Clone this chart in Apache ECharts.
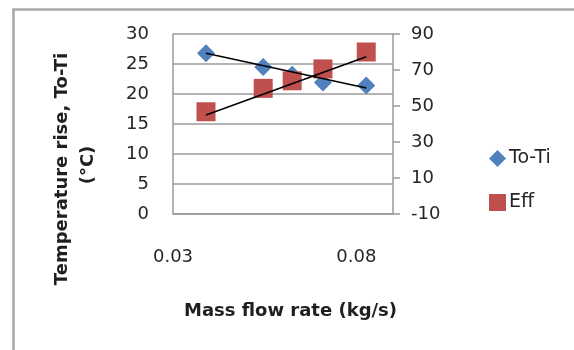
<!DOCTYPE html>
<html>
<head>
<meta charset="utf-8">
<script src="https://cdn.jsdelivr.net/npm/echarts@6/dist/echarts.min.js"></script>
<style>html,body{margin:0;padding:0;background:#fff}#c{width:574px;height:350px}</style>
</head>
<body>
<div id="c"></div>
<script>
// ---- data ----
var massFlow = [0.039, 0.0546, 0.0625, 0.0709, 0.0827];
var tempRise = [26.8, 24.5, 23.2, 21.9, 21.4];
var eff = [46.8, 59.8, 64.0, 70.6, 80.0];
// linear trendlines (end points)
var trendX = [0.039, 0.0827];
var tempTrend = [26.8, 21.0];
var effTrend = [45.0, 77.4];
var xTickLabels = ['0.03', '0.08'];
var seriesNames = ['To-Ti', 'Eff'];

function pairs(xs, ys) { return xs.map(function (x, i) { return [x, ys[i]]; }); }

var FONT = 'DejaVu Sans';
var GRID = '#9a9a9a';
var chart = echarts.init(document.getElementById('c'));
chart.setOption({
  animation: false,
  backgroundColor: '#fff',
  textStyle: { fontFamily: FONT },
  grid: { left: 173, top: 34, width: 220, height: 180, containLabel: false },
  xAxis: {
    type: 'value', min: 0.03, max: 0.09, interval: 0.01,
    axisLine: { show: true, lineStyle: { color: GRID, width: 1.5 } },
    axisTick: { show: false },
    splitLine: { show: false },
    axisLabel: {
      margin: 34, fontSize: 18, color: '#262626', fontFamily: FONT,
      formatter: function (v) { var s = v.toFixed(2); return xTickLabels.indexOf(s) >= 0 ? s : ''; }
    }
  },
  yAxis: [{
    type: 'value', min: 0, max: 30, interval: 5,
    axisLine: { show: true, lineStyle: { color: GRID, width: 1.5 } },
    axisTick: { show: false },
    splitLine: { show: true, lineStyle: { color: GRID, width: 1.5 } },
    axisLabel: { margin: 24, fontSize: 18, color: '#262626', fontFamily: FONT }
  }, {
    type: 'value', min: -10, max: 90, interval: 20, position: 'right',
    axisLine: { show: true, lineStyle: { color: GRID, width: 1.5 } },
    axisTick: { show: true, inside: false, length: 7, lineStyle: { color: GRID, width: 1.5 } },
    splitLine: { show: false },
    axisLabel: { margin: 18, fontSize: 18, color: '#262626', fontFamily: FONT }
  }],
  legend: {
    data: [{ name: seriesNames[0], icon: 'diamond' }, { name: seriesNames[1], icon: 'rect' }],
    orient: 'vertical', left: 489, top: 149, padding: 0, itemGap: 25,
    itemWidth: 17, itemHeight: 17,
    itemStyle: { opacity: 1 },
    textStyle: { fontSize: 19, color: '#262626', fontFamily: FONT, padding: [0, 0, 0, -2] }
  },
  series: [{
    name: seriesNames[0], type: 'scatter', yAxisIndex: 0, symbol: 'diamond', symbolSize: 18,
    itemStyle: { color: '#4f81bd', opacity: 1 }, data: pairs(massFlow, tempRise), z: 2
  }, {
    name: seriesNames[1], type: 'scatter', yAxisIndex: 1, symbol: 'rect', symbolSize: 19,
    itemStyle: { color: '#c0504d', opacity: 1 }, data: pairs(massFlow, eff), z: 2
  }, {
    name: 'trend1', type: 'line', yAxisIndex: 0, symbol: 'none', z: 5,
    lineStyle: { color: '#000', width: 1.6 }, data: pairs(trendX, tempTrend)
  }, {
    name: 'trend2', type: 'line', yAxisIndex: 1, symbol: 'none', z: 5,
    lineStyle: { color: '#000', width: 1.6 }, data: pairs(trendX, effTrend)
  }],
  graphic: [{
    type: 'rect', shape: { x: 13.5, y: 9.5, width: 700, height: 500 },
    style: { fill: 'none', stroke: '#a8a8a8', lineWidth: 2.5 }, z: -1
  }, {
    type: 'text', x: 62, y: 169, rotation: Math.PI / 2,
    style: { text: 'Temperature rise, To-Ti', font: 'bold 18px "DejaVu Sans"', fill: '#1f1f1f', align: 'center', verticalAlign: 'middle' }
  }, {
    type: 'text', x: 88, y: 165, rotation: Math.PI / 2,
    style: { text: '(°C)', font: 'bold 18px "DejaVu Sans"', fill: '#1f1f1f', align: 'center', verticalAlign: 'middle' }
  }, {
    type: 'text', x: 290.5, y: 311.5,
    style: { text: 'Mass flow rate (kg/s)', font: 'bold 18px "DejaVu Sans"', fill: '#1f1f1f', align: 'center', verticalAlign: 'middle' }
  }]
});
</script>
</body>
</html>
